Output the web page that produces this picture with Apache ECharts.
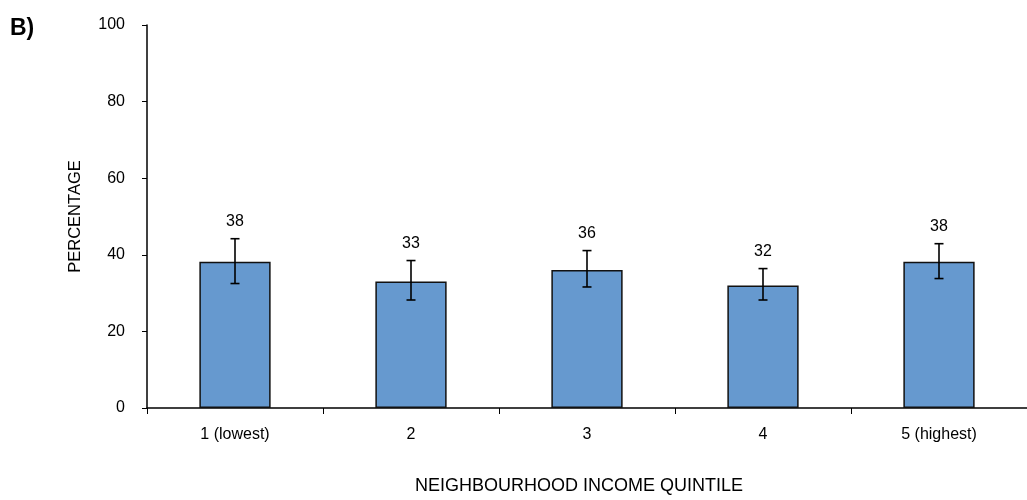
<!DOCTYPE html>
<html><head><meta charset="utf-8">
<script src="https://cdn.jsdelivr.net/npm/echarts@6/dist/echarts.min.js"></script>
<style>html,body{margin:0;padding:0;background:#fff}#c{width:1027px;height:500px}</style>
</head><body><div id="c"></div>
<script>
const categories = ['1 (lowest)', '2', '3', '4', '5 (highest)'];
const values = [38.2, 33.0, 36.0, 32.0, 38.2];
const labels = ['38', '33', '36', '32', '38'];
const errLow = [32.5, 28.2, 31.6, 28.2, 33.8];
const errHigh = [44.2, 38.5, 41.1, 36.4, 42.9];
const yTicks = [0, 20, 40, 60, 80, 100];

const FONT = 'Liberation Sans';
const chart = echarts.init(document.getElementById('c'));
chart.setOption({
  animation: false,
  textStyle: { fontFamily: FONT },
  title: { text: 'B)', left: 5, top: 12, textStyle: { fontFamily: FONT, fontSize: 23, fontWeight: 'bold', color: '#000' } },
  grid: { left: 147, right: -6, top: 25, bottom: 88, containLabel: false },
  xAxis: {
    type: 'category', data: categories,
    name: 'NEIGHBOURHOOD INCOME QUINTILE', nameLocation: 'middle', nameGap: 69,
    nameTextStyle: { fontFamily: FONT, fontSize: 18, color: '#000', padding: [0, 16, 0, 0] },
    axisLine: { lineStyle: { color: '#000', width: 1.5 } },
    axisTick: { show: true, length: 6, lineStyle: { color: '#000' } },
    axisLabel: { color: '#000', fontSize: 16, margin: 19, fontFamily: FONT }
  },
  yAxis: {
    type: 'value', min: 0, max: 100, interval: 20,
    name: 'PERCENTAGE', nameLocation: 'middle', nameGap: 63, nameRotate: 90,
    nameTextStyle: { fontFamily: FONT, fontSize: 16.5, color: '#000' },
    axisLine: { show: true, lineStyle: { color: '#000', width: 1.5 } },
    axisTick: { show: true, length: 5, lineStyle: { color: '#000' } },
    axisLabel: { color: '#000', fontSize: 16, margin: 22, fontFamily: FONT,
      formatter: v => yTicks.includes(v) ? String(v) : '' },
    splitLine: { show: false }
  },
  series: [
    {
      type: 'bar', data: values, barWidth: '40.5%',
      itemStyle: { color: '#6699CF', borderColor: '#111', borderWidth: 1.5 }
    },
    {
      type: 'custom',
      data: categories.map((c, i) => [i, errLow[i], errHigh[i]]),
      renderItem: function (params, api) {
        const lo = api.coord([api.value(0), api.value(1)]);
        const hi = api.coord([api.value(0), api.value(2)]);
        const x = lo[0], cap = 4.5;
        const st = { stroke: '#000', lineWidth: 1.6 };
        return {
          type: 'group',
          children: [
            { type: 'line', shape: { x1: x, y1: lo[1], x2: x, y2: hi[1] }, style: st },
            { type: 'line', shape: { x1: x - cap, y1: lo[1], x2: x + cap, y2: lo[1] }, style: st },
            { type: 'line', shape: { x1: x - cap, y1: hi[1], x2: x + cap, y2: hi[1] }, style: st },
            { type: 'text', style: { text: labels[params.dataIndex], x: x, y: hi[1] - 9,
              textAlign: 'center', textVerticalAlign: 'bottom', fontSize: 16, fontFamily: FONT, fill: '#000' } }
          ]
        };
      },
      z: 10
    }
  ]
});
</script></body></html>
